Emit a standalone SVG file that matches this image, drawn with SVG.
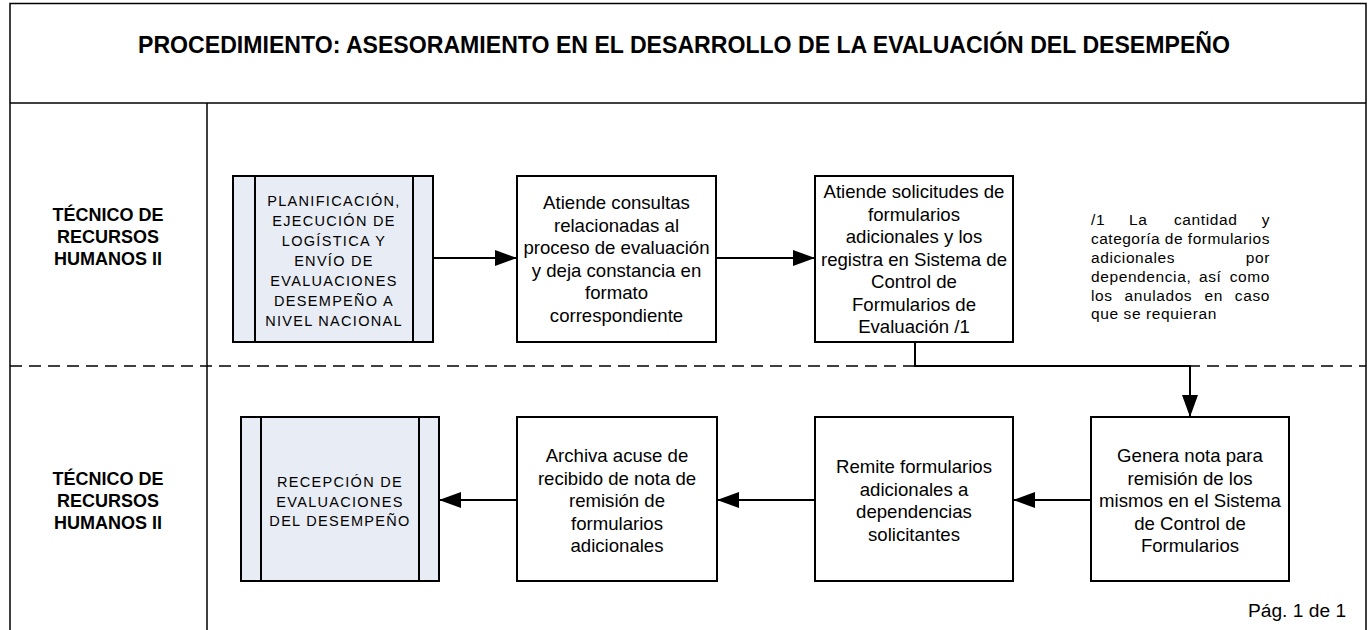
<svg xmlns="http://www.w3.org/2000/svg" width="1371" height="630" viewBox="0 0 1371 630">
<style>
.frame{fill:none;stroke:#000;stroke-width:1.5}
.dash{fill:none;stroke:#000;stroke-width:1.5;stroke-dasharray:12 7}
.box{fill:#fff;stroke:#000;stroke-width:2}
.pre{fill:#e8ecf4;stroke:#000;stroke-width:2}
.conn{fill:none;stroke:#000;stroke-width:2}
.t{font-family:"Liberation Sans",Arial,sans-serif;font-size:18.6px;fill:#000;text-anchor:middle}
.u{font-family:"Liberation Sans",Arial,sans-serif;font-size:14.5px;letter-spacing:1.3px;fill:#000;text-anchor:middle}
.lane{font-family:"Liberation Sans",Arial,sans-serif;font-size:18px;font-weight:bold;fill:#000;text-anchor:middle}
.title{font-family:"Liberation Sans",Arial,sans-serif;font-size:23.1px;font-weight:bold;fill:#000;text-anchor:middle}
.note{font-family:"Liberation Sans",Arial,sans-serif;font-size:15.5px;letter-spacing:0.6px;fill:#000}
</style>
<defs>
<marker id="ah" markerUnits="userSpaceOnUse" markerWidth="24" markerHeight="18" refX="22" refY="8" orient="auto">
<path d="M0,0 L22,8 L0,16 Z" fill="#000"/>
</marker>
</defs>
<rect width="1371" height="630" fill="#fff"/>
<g id="frame">
<path class="frame" d="M10,632 V3.5 H1366 V632"/>
<line class="frame" x1="10" y1="103" x2="1366" y2="103"/>
<line class="frame" x1="207" y1="103" x2="207" y2="632"/>
<line class="dash" x1="10" y1="366" x2="1366" y2="366"/>
<text class="title" x="684" y="53">PROCEDIMIENTO: ASESORAMIENTO EN EL DESARROLLO DE LA EVALUACIÓN DEL DESEMPEÑO</text>
<text class="lane"><tspan x="108" y="221">TÉCNICO DE</tspan><tspan x="108" y="243">RECURSOS</tspan><tspan x="108" y="265">HUMANOS II</tspan></text>
<text class="lane"><tspan x="108" y="485">TÉCNICO DE</tspan><tspan x="108" y="507">RECURSOS</tspan><tspan x="108" y="529">HUMANOS II</tspan></text>
<text class="t" x="1297" y="617" style="font-size:19.2px">Pág. 1 de 1</text>
</g>
<g id="connectors">
<line class="conn" x1="433" y1="258" x2="517" y2="258" marker-end="url(#ah)"/>
<line class="conn" x1="716" y1="258" x2="815" y2="258" marker-end="url(#ah)"/>
<path class="conn" d="M915,342 V366 H1190 V417" marker-end="url(#ah)"/>
<line class="conn" x1="1091" y1="500" x2="1013" y2="500" marker-end="url(#ah)"/>
<line class="conn" x1="815" y1="500" x2="717" y2="500" marker-end="url(#ah)"/>
<line class="conn" x1="517" y1="500" x2="439" y2="500" marker-end="url(#ah)"/>
</g>
<g id="n1">
<rect class="pre" x="233" y="176" width="200" height="166"/>
<line class="conn" x1="255" y1="176" x2="255" y2="342"/>
<line class="conn" x1="413" y1="176" x2="413" y2="342"/>
<text class="u"><tspan x="334" y="205.5">PLANIFICACIÓN,</tspan><tspan x="334" y="225.5">EJECUCIÓN DE</tspan><tspan x="334" y="245.5">LOGÍSTICA Y</tspan><tspan x="334" y="265.5">ENVÍO DE</tspan><tspan x="334" y="285.5">EVALUACIONES</tspan><tspan x="334" y="305.5">DESEMPEÑO A</tspan><tspan x="334" y="325.5">NIVEL NACIONAL</tspan></text>
</g>
<g id="n2">
<rect class="box" x="517" y="176" width="199" height="166"/>
<text class="t"><tspan x="616.5" y="209">Atiende consultas</tspan><tspan x="616.5" y="231.5">relacionadas al</tspan><tspan x="616.5" y="254">proceso de evaluación</tspan><tspan x="616.5" y="276.5">y deja constancia en</tspan><tspan x="616.5" y="299">formato</tspan><tspan x="616.5" y="321.5">correspondiente</tspan></text>
</g>
<g id="n3">
<rect class="box" x="815" y="176" width="198" height="166"/>
<text class="t"><tspan x="914" y="198">Atiende solicitudes de</tspan><tspan x="914" y="220.5">formularios</tspan><tspan x="914" y="243">adicionales y los</tspan><tspan x="914" y="265.5">registra en Sistema de</tspan><tspan x="914" y="288">Control de</tspan><tspan x="914" y="310.5">Formularios de</tspan><tspan x="914" y="333">Evaluación /1</tspan></text>
</g>
<g id="note">
<text class="note"><tspan x="1091" y="225">/1</tspan><tspan x="1129" y="225">La</tspan><tspan x="1174" y="225">cantidad</tspan><tspan x="1270" y="225" text-anchor="end">y</tspan></text>
<text class="note" x="1091" y="244" textLength="179" lengthAdjust="spacing">categoría de formularios</text>
<text class="note"><tspan x="1091" y="263">adicionales</tspan><tspan x="1270" y="263" text-anchor="end">por</tspan></text>
<text class="note"><tspan x="1091" y="282">dependencia,</tspan><tspan x="1199" y="282">así</tspan><tspan x="1270" y="282" text-anchor="end">como</tspan></text>
<text class="note"><tspan x="1091" y="301">los</tspan><tspan x="1124.5" y="301">anulados</tspan><tspan x="1204.5" y="301">en</tspan><tspan x="1270" y="301" text-anchor="end">caso</tspan></text>
<text class="note" x="1091" y="319">que se requieran</text>
</g>
<g id="n4">
<rect class="box" x="1091" y="417" width="198" height="164"/>
<text class="t"><tspan x="1190" y="462">Genera nota para</tspan><tspan x="1190" y="484.5">remisión de los</tspan><tspan x="1190" y="507">mismos en el Sistema</tspan><tspan x="1190" y="529.5">de Control de</tspan><tspan x="1190" y="552">Formularios</tspan></text>
</g>
<g id="n5">
<rect class="box" x="815" y="417" width="198" height="164"/>
<text class="t"><tspan x="914" y="473">Remite formularios</tspan><tspan x="914" y="495.5">adicionales a</tspan><tspan x="914" y="518">dependencias</tspan><tspan x="914" y="540.5">solicitantes</tspan></text>
</g>
<g id="n6">
<rect class="box" x="517" y="417" width="200" height="164"/>
<text class="t"><tspan x="617" y="462">Archiva acuse de</tspan><tspan x="617" y="484.5">recibido de nota de</tspan><tspan x="617" y="507">remisión de</tspan><tspan x="617" y="529.5">formularios</tspan><tspan x="617" y="552">adicionales</tspan></text>
</g>
<g id="n7">
<rect class="pre" x="241" y="417" width="198" height="164"/>
<line class="conn" x1="261" y1="417" x2="261" y2="581"/>
<line class="conn" x1="419" y1="417" x2="419" y2="581"/>
<text class="u"><tspan x="340" y="487">RECEPCIÓN DE</tspan><tspan x="340" y="506.5">EVALUACIONES</tspan><tspan x="340" y="526">DEL DESEMPEÑO</tspan></text>
</g>
</svg>
